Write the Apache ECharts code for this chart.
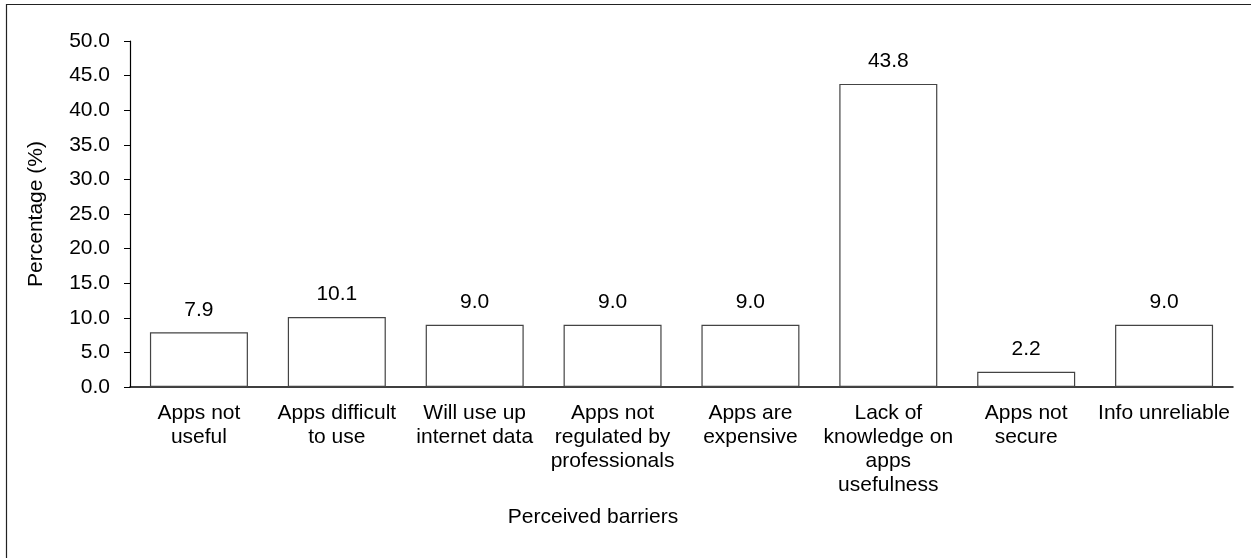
<!DOCTYPE html>
<html>
<head>
<meta charset="utf-8">
<script src="https://cdn.jsdelivr.net/npm/echarts@6/dist/echarts.min.js"></script>
<style>
  html, body { margin: 0; padding: 0; background: #fff; }
  #chart { width: 1251px; height: 558px; }
</style>
</head>
<body>
<div id="chart"></div>
<script>
// Perceived barriers to using health apps (percentage of respondents)
const categories = [
  'Apps not\nuseful',
  'Apps difficult\nto use',
  'Will use up\ninternet data',
  'Apps not\nregulated by\nprofessionals',
  'Apps are\nexpensive',
  'Lack of\nknowledge on\napps\nusefulness',
  'Apps not\nsecure',
  'Info unreliable'
];
const percentages = [7.9, 10.1, 9.0, 9.0, 9.0, 43.8, 2.2, 9.0];
const yAxisTitle = 'Percentage (%)';
const xAxisTitle = 'Perceived barriers';

const FONT = '"Liberation Sans", Arial, sans-serif';
const FS = 21;
const chart = echarts.init(document.getElementById('chart'), null, { renderer: 'canvas' });

chart.setOption({
  animation: false,
  backgroundColor: '#ffffff',
  textStyle: { fontFamily: FONT, color: '#000' },
  grid: { left: 130, right: 18, top: 41, bottom: 171, containLabel: false },
  graphic: [
    {
      type: 'rect',
      shape: { x: 6.5, y: 4.5, width: 1400, height: 700 },
      style: { fill: 'none', stroke: '#222', lineWidth: 1.2 },
      silent: true
    },
    {
      type: 'text',
      x: 593, y: 517,
      style: {
        text: xAxisTitle,
        font: FS + 'px ' + FONT,
        fill: '#000',
        align: 'center',
        verticalAlign: 'middle'
      }
    }
  ],
  xAxis: {
    type: 'category',
    data: categories,
    axisLine: { show: true, lineStyle: { color: '#000', width: 1.5 } },
    axisTick: { show: false },
    axisLabel: {
      interval: 0,
      margin: 14,
      color: '#000',
      fontSize: FS,
      fontFamily: FONT,
      lineHeight: 24,
      align: 'center'
    },
    splitLine: { show: false }
  },
  yAxis: {
    type: 'value',
    min: 0,
    max: 50,
    interval: 5,
    name: yAxisTitle,
    nameLocation: 'middle',
    nameGap: 83,
    nameRotate: 90,
    nameTextStyle: { fontSize: FS, fontFamily: FONT, color: '#000' },
    axisLine: { show: true, lineStyle: { color: '#000', width: 1.2 } },
    axisTick: { show: true, inside: false, length: 6, lineStyle: { color: '#000', width: 1 } },
    axisLabel: {
      margin: 20,
      color: '#000',
      fontSize: FS,
      fontFamily: FONT,
      formatter: v => v.toFixed(1)
    },
    splitLine: { show: false }
  },
  series: [
    {
      type: 'bar',
      data: percentages,
      barWidth: 98,
      itemStyle: { color: '#ffffff', borderColor: '#444', borderWidth: 1.2 },
      label: {
        show: true,
        position: 'top',
        distance: 12,
        color: '#000',
        fontSize: FS,
        fontFamily: FONT,
        formatter: p => p.value.toFixed(1)
      }
    }
  ]
});
</script>
</body>
</html>
